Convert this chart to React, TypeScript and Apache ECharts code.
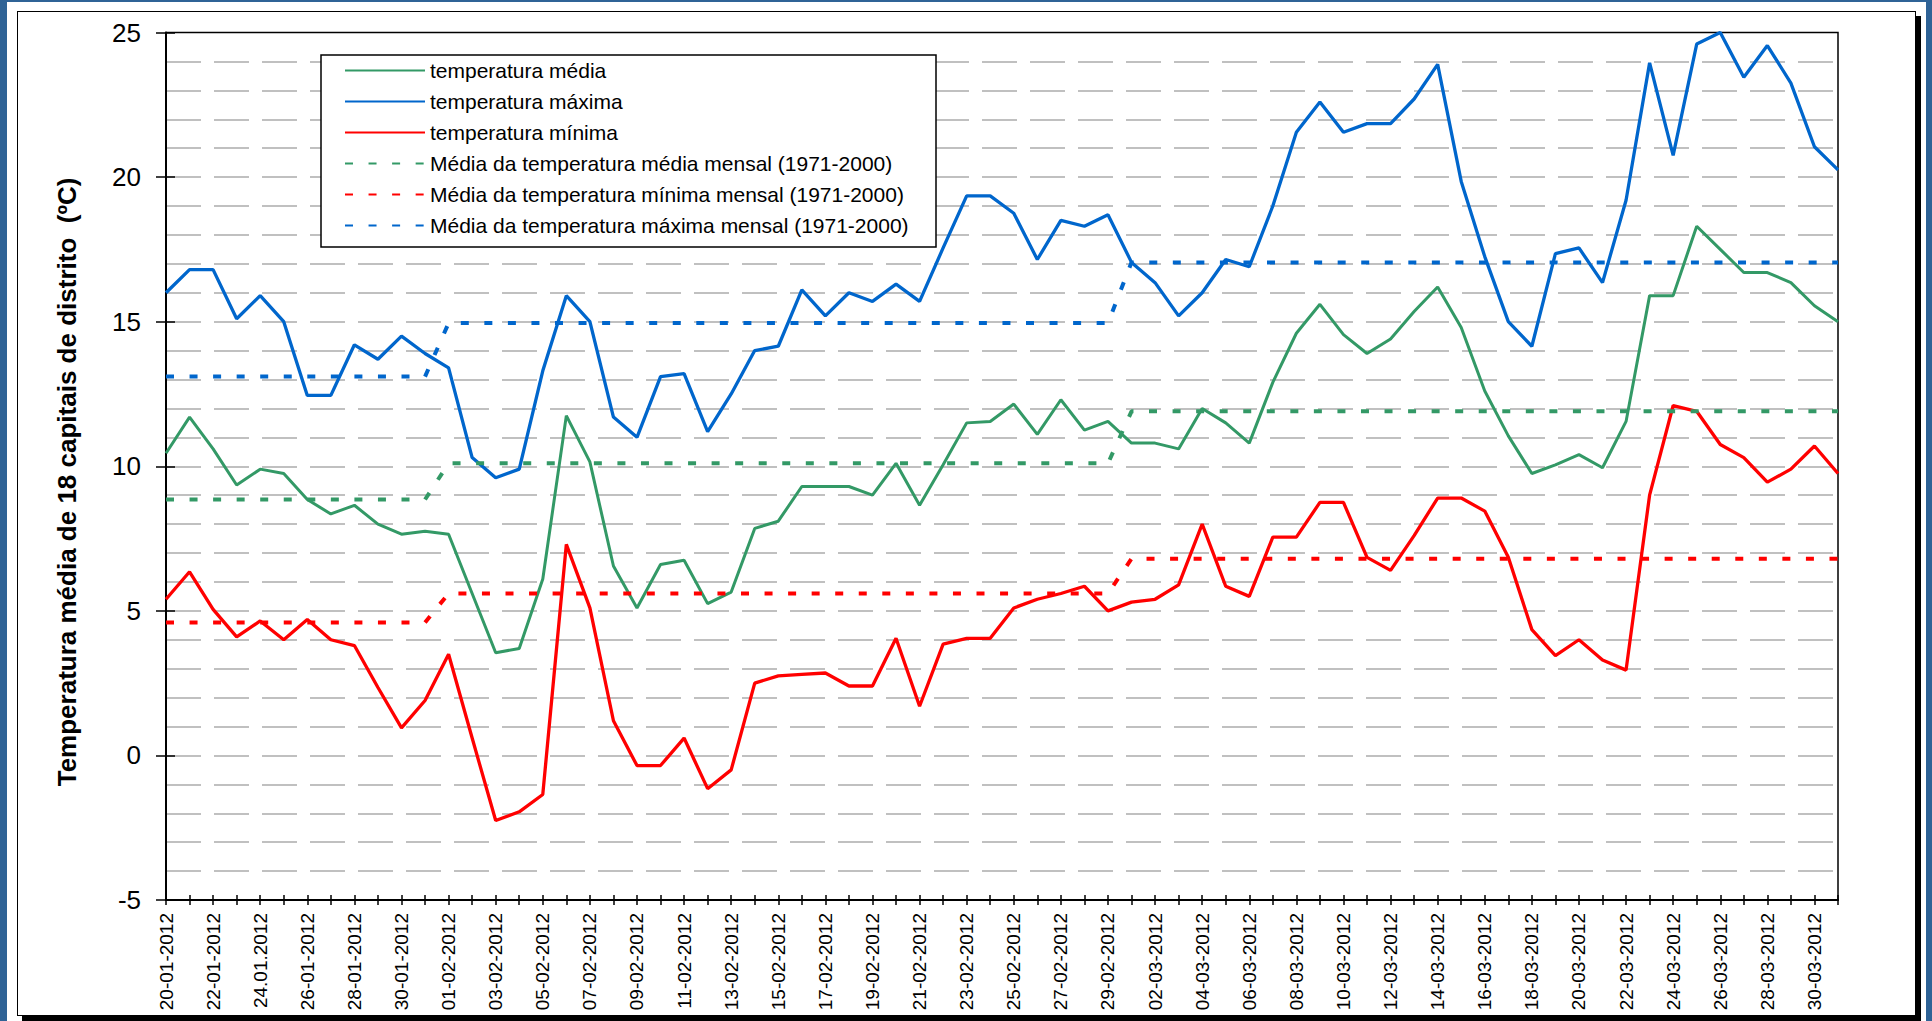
import React, { useEffect, useRef } from "react";
import * as echarts from "echarts";

const dates: string[] = [
  "20-01-2012", "21-01-2012", "22-01-2012", "23-01-2012", "24.01.2012", "25-01-2012",
  "26-01-2012", "27-01-2012", "28-01-2012", "29-01-2012", "30-01-2012", "31-01-2012",
  "01-02-2012", "02-02-2012", "03-02-2012", "04-02-2012", "05-02-2012", "06-02-2012",
  "07-02-2012", "08-02-2012", "09-02-2012", "10-02-2012", "11-02-2012", "12-02-2012",
  "13-02-2012", "14-02-2012", "15-02-2012", "16-02-2012", "17-02-2012", "18-02-2012",
  "19-02-2012", "20-02-2012", "21-02-2012", "22-02-2012", "23-02-2012", "24-02-2012",
  "25-02-2012", "26-02-2012", "27-02-2012", "28-02-2012", "29-02-2012", "01-03-2012",
  "02-03-2012", "03-03-2012", "04-03-2012", "05-03-2012", "06-03-2012", "07-03-2012",
  "08-03-2012", "09-03-2012", "10-03-2012", "11-03-2012", "12-03-2012", "13-03-2012",
  "14-03-2012", "15-03-2012", "16-03-2012", "17-03-2012", "18-03-2012", "19-03-2012",
  "20-03-2012", "21-03-2012", "22-03-2012", "23-03-2012", "24-03-2012", "25-03-2012",
  "26-03-2012", "27-03-2012", "28-03-2012", "29-03-2012", "30-03-2012", "31-03-2012",
];

const tempMedia: number[] = [
  10.45, 11.7, 10.6, 9.35, 9.9, 9.75, 8.85, 8.35, 8.65, 8.0, 7.65, 7.75,
  7.65, 5.6, 3.55, 3.7, 6.1, 11.75, 10.15, 6.55, 5.1, 6.6, 6.75, 5.25,
  5.65, 7.85, 8.1, 9.3, 9.3, 9.3, 9.0, 10.1, 8.65, 10.05, 11.5, 11.55,
  12.15, 11.1, 12.3, 11.25, 11.55, 10.8, 10.8, 10.6, 12.0, 11.5, 10.8, 12.9,
  14.6, 15.6, 14.55, 13.9, 14.4, 15.35, 16.2, 14.8, 12.6, 11.05, 9.75, 10.05,
  10.4, 9.95, 11.55, 15.9, 15.9, 18.3, 17.5, 16.7, 16.7, 16.35, 15.55, 15.0,
];

const tempMaxima: number[] = [
  16.0, 16.8, 16.8, 15.1, 15.9, 15.0, 12.45, 12.45, 14.2, 13.7, 14.5, 13.9,
  13.4, 10.3, 9.6, 9.9, 13.3, 15.9, 15.0, 11.7, 11.0, 13.1, 13.2, 11.2,
  12.5, 14.0, 14.15, 16.1, 15.2, 16.0, 15.7, 16.3, 15.7, 17.55, 19.35, 19.35,
  18.75, 17.15, 18.5, 18.3, 18.7, 17.05, 16.35, 15.2, 16.0, 17.15, 16.9, 19.0,
  21.55, 22.6, 21.55, 21.85, 21.85, 22.7, 23.9, 19.85, 17.25, 15.0, 14.15, 17.35,
  17.55, 16.35, 19.2, 23.95, 20.75, 24.6, 25.0, 23.45, 24.55, 23.25, 21.05, 20.25,
];

const tempMinima: number[] = [
  5.4, 6.35, 5.05, 4.1, 4.65, 4.0, 4.7, 4.0, 3.8, 2.35, 0.95, 1.9,
  3.5, 0.6, -2.25, -1.95, -1.35, 7.3, 5.1, 1.2, -0.35, -0.35, 0.6, -1.15,
  -0.5, 2.5, 2.75, 2.8, 2.85, 2.4, 2.4, 4.05, 1.7, 3.85, 4.05, 4.05,
  5.1, 5.4, 5.6, 5.85, 5.0, 5.3, 5.4, 5.9, 8.0, 5.85, 5.5, 7.55,
  7.55, 8.75, 8.75, 6.85, 6.4, 7.6, 8.9, 8.9, 8.45, 6.85, 4.35, 3.45,
  4.0, 3.3, 2.95, 9.0, 12.1, 11.9, 10.75, 10.3, 9.45, 9.9, 10.7, 9.75,
];

// Monthly normals 1971-2000 (January, February, March)
const months: string[] = ["01", "02", "03"];
const normalMedia: number[] = [8.85, 10.1, 11.9];
const normalMinima: number[] = [4.6, 5.6, 6.8];
const normalMaxima: number[] = [13.1, 14.95, 17.05];

const yTicks: number[] = [-5, 0, 5, 10, 15, 20, 25];

const seriesNames: string[] = [
  "temperatura média",
  "temperatura máxima",
  "temperatura mínima",
  "Média da temperatura média mensal (1971-2000)",
  "Média da temperatura mínima mensal (1971-2000)",
  "Média da temperatura máxima mensal (1971-2000)",
];

const yTitle = "Temperatura média de 18 capitais de distrito  (ºC)";

const FONT = "'Liberation Sans', Arial, Helvetica, sans-serif";
const GREEN = "#339966";
const BLUE = "#0066cc";
const RED = "#ff0000";

function monthly(normals: number[]): number[] {
  return dates.map((d) => normals[months.indexOf(d.slice(3, 5))]);
}

export default function App() {
  const ref = useRef<HTMLDivElement>(null);

  useEffect(() => {
    if (!ref.current) return;
    const chart = echarts.init(ref.current, null, { renderer: "svg" });
    const grid = "#c0c0c0";
    const dash = [8, 15.55];
    const option: any = {
      animation: false,
      backgroundColor: "transparent",
      grid: {
        left: 166,
        top: 32.5,
        right: 94,
        bottom: 121,
        show: true,
        borderColor: "#000",
        borderWidth: 1.5,
        backgroundColor: "transparent",
      },
      legend: {
        orient: "vertical",
        left: 344,
        top: 60,
        padding: 0,
        itemWidth: 80,
        itemHeight: 21,
        itemGap: 10,
        z: 10,
        itemStyle: { opacity: 0, borderWidth: 0 },
        textStyle: { fontFamily: FONT, fontSize: 21, color: "#000", lineHeight: 21 },
        data: seriesNames,
      },
      graphic: [
        {
          type: "rect",
          z: 3,
          shape: { x: 321, y: 55, width: 615, height: 192 },
          style: { fill: "#fff", stroke: "#000", lineWidth: 1.5 },
        },
        {
          type: "text",
          x: 67,
          y: 482,
          rotation: Math.PI / 2,
          style: {
            text: yTitle,
            font: `bold 26px ${FONT}`,
            fill: "#000",
            textAlign: "center",
            textVerticalAlign: "middle",
          },
        },
      ],
      xAxis: [
        {
          type: "category",
          data: dates,
          boundaryGap: false,
          axisLine: { show: true, onZero: false, lineStyle: { color: "#000", width: 2 } },
          axisTick: { show: true, interval: 0, length: 5, lineStyle: { color: "#000", width: 1.5 } },
          axisLabel: {
            interval: 1,
            rotate: 90,
            margin: 13,
            fontFamily: FONT,
            fontSize: 19,
            color: "#000",
          },
          splitLine: { show: false },
        },
        {
          type: "category",
          data: dates,
          boundaryGap: false,
          position: "bottom",
          axisLine: { show: false, onZero: false },
          axisTick: { show: true, inside: true, interval: 0, length: 5, lineStyle: { color: "#000", width: 1.5 } },
          axisLabel: { show: false },
          splitLine: { show: false },
        },
      ],
      yAxis: [
        {
          type: "value",
          min: yTicks[0],
          max: yTicks[yTicks.length - 1],
          interval: 5,
          axisLine: { show: true, onZero: false, lineStyle: { color: "#000", width: 2 } },
          axisTick: { show: true, length: 10, lineStyle: { color: "#000", width: 1.5 } },
          axisLabel: { margin: 25, fontFamily: FONT, fontSize: 26, color: "#000" },
          splitLine: {
            show: true,
            showMaxLine: false,
            showMinLine: false,
            lineStyle: { color: grid, width: 2, type: [35, 13] },
          },
          minorTick: { show: false, splitNumber: 5 },
          minorSplitLine: { show: true, lineStyle: { color: grid, width: 2, type: [35, 13] } },
        },
        {
          type: "value",
          min: yTicks[0],
          max: yTicks[yTicks.length - 1],
          interval: 5,
          position: "left",
          axisLine: { show: false, onZero: false },
          axisTick: { show: true, inside: true, length: 9, lineStyle: { color: "#000", width: 1.5 } },
          axisLabel: { show: false },
          splitLine: { show: false },
        },
      ],
      series: [
        {
          name: seriesNames[0],
          type: "line",
          data: tempMedia,
          symbol: "none",
          color: GREEN,
          lineStyle: { color: GREEN, width: 3 },
        },
        {
          name: seriesNames[1],
          type: "line",
          data: tempMaxima,
          symbol: "none",
          color: BLUE,
          lineStyle: { color: BLUE, width: 3.3 },
        },
        {
          name: seriesNames[2],
          type: "line",
          data: tempMinima,
          symbol: "none",
          color: RED,
          lineStyle: { color: RED, width: 3.3 },
        },
        {
          name: seriesNames[3],
          type: "line",
          data: monthly(normalMedia),
          symbol: "none",
          color: GREEN,
          lineStyle: { color: GREEN, width: 4, type: dash },
        },
        {
          name: seriesNames[4],
          type: "line",
          data: monthly(normalMinima),
          symbol: "none",
          color: RED,
          lineStyle: { color: RED, width: 4, type: dash },
        },
        {
          name: seriesNames[5],
          type: "line",
          data: monthly(normalMaxima),
          symbol: "none",
          color: BLUE,
          lineStyle: { color: BLUE, width: 4, type: dash },
        },
      ],
    };
    chart.setOption(option);
    return () => chart.dispose();
  }, []);

  return (
    <div
      style={{
        position: "fixed",
        left: 0,
        top: 0,
        width: 1932,
        height: 1021,
        background: "#2f6396",
        overflow: "hidden",
      }}
    >
      <div style={{ position: "absolute", left: 7, top: 2, width: 1919, height: 1019, background: "#fff" }} />
      <div
        style={{
          position: "absolute",
          left: 17,
          top: 11,
          width: 1899,
          height: 1005,
          border: "1.5px solid #000",
          boxSizing: "border-box",
          boxShadow: "5px 5px 0 #000",
        }}
      />
      <div ref={ref} style={{ position: "absolute", left: 0, top: 0, width: 1932, height: 1021 }} />
    </div>
  );
}
